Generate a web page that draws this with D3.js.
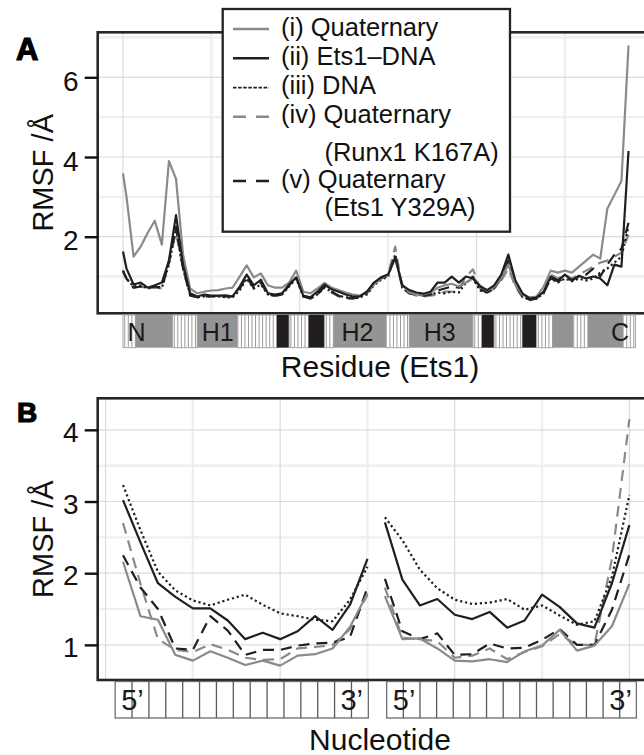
<!DOCTYPE html>
<html>
<head>
<meta charset="utf-8">
<script src="https://cdn.jsdelivr.net/npm/d3@7"></script>
<style>
  html, body { margin: 0; padding: 0; background: #fff; overflow: hidden; }
  svg { display: block; font-family: "Liberation Sans", Arial, sans-serif; }
</style>
</head>
<body>
<div id="chart"></div>
<script>
// ---- panel A: RMSF per Ets1 residue ----
const residue = [
  300, 301, 303, 305, 307, 309, 311, 313, 315, 317,
  319, 321, 323, 325, 327, 329, 331, 333, 335, 337,
  339, 341, 343, 345, 347, 349, 351, 353, 355, 357,
  359, 361, 363, 365, 367, 369, 371, 373, 375, 377,
  379, 381, 383, 385, 387, 389, 391, 393, 395, 397,
  399, 401, 403, 405, 407, 409, 411, 413, 415, 417,
  419, 421, 423, 425, 427, 429, 431, 433, 435, 437,
  439, 441, 443
];
const rmsfQuaternary = [
  3.59, 3.00, 1.50, 1.75, 2.10, 2.40, 1.80, 3.90, 3.45, 1.55,
  0.70, 0.58, 0.62, 0.65, 0.66, 0.70, 0.72, 1.00, 1.28, 0.98,
  1.08, 0.78, 0.72, 0.72, 0.85, 1.15, 0.62, 0.58, 0.70, 0.84,
  0.72, 0.66, 0.60, 0.55, 0.52, 0.62, 0.80, 0.95, 1.05, 1.45,
  0.80, 0.60, 0.55, 0.55, 0.60, 0.72, 0.78, 0.82, 0.75, 0.85,
  0.95, 0.78, 0.65, 0.75, 0.95, 1.30, 0.80, 0.55, 0.48, 0.50,
  0.75, 1.15, 1.10, 1.15, 1.10, 1.25, 1.40, 1.55, 1.45, 2.70,
  3.05, 3.40, 6.80
];
const rmsfEts1DNA = [
  1.63, 1.20, 0.80, 0.85, 0.72, 0.78, 0.85, 1.40, 2.54, 1.30,
  0.58, 0.50, 0.55, 0.52, 0.52, 0.53, 0.50, 0.75, 1.05, 0.78,
  0.92, 0.58, 0.55, 0.58, 0.80, 0.98, 0.52, 0.48, 0.62, 0.80,
  0.68, 0.62, 0.55, 0.50, 0.50, 0.62, 0.85, 0.98, 1.05, 1.48,
  0.78, 0.66, 0.60, 0.57, 0.62, 0.85, 0.85, 1.00, 0.85, 1.00,
  0.95, 0.75, 0.66, 0.78, 1.05, 1.55, 0.90, 0.58, 0.45, 0.47,
  0.62, 1.00, 0.90, 1.05, 0.90, 1.02, 0.95, 1.00, 0.95, 0.78,
  1.30, 1.25, 4.15
];
const rmsfDNA = [
  1.15, 0.95, 0.75, 0.78, 0.70, 0.75, 0.72, 1.30, 2.20, 1.20,
  0.55, 0.48, 0.50, 0.50, 0.50, 0.48, 0.48, 0.65, 0.95, 0.70,
  0.80, 0.55, 0.52, 0.55, 0.75, 0.95, 0.50, 0.45, 0.55, 0.72,
  0.62, 0.52, 0.48, 0.46, 0.48, 0.55, 0.78, 0.92, 1.00, 1.55,
  0.72, 0.60, 0.55, 0.52, 0.55, 0.60, 0.58, 0.62, 0.60, 0.85,
  0.95, 0.65, 0.60, 0.72, 0.95, 1.35, 0.80, 0.50, 0.42, 0.45,
  0.58, 0.95, 0.85, 0.95, 0.88, 0.95, 0.90, 0.95, 1.10, 1.20,
  1.35, 1.50, 2.25
];
const rmsfRunx1K167A = [
  1.10, 0.95, 0.72, 0.75, 0.70, 0.72, 0.70, 1.40, 2.10, 1.20,
  0.55, 0.50, 0.52, 0.50, 0.50, 0.50, 0.52, 0.70, 0.95, 0.72,
  0.85, 0.55, 0.52, 0.55, 0.78, 1.00, 0.52, 0.45, 0.55, 0.75,
  0.60, 0.50, 0.45, 0.45, 0.50, 0.58, 0.80, 0.95, 1.05, 1.75,
  0.72, 0.58, 0.52, 0.50, 0.52, 0.55, 0.62, 0.62, 0.70, 1.00,
  1.18, 0.70, 0.58, 0.70, 0.90, 1.20, 0.75, 0.48, 0.40, 0.45,
  0.60, 1.05, 0.95, 1.05, 0.95, 1.05, 1.15, 1.25, 1.35, 1.40,
  1.50, 1.60, 2.05
];
const rmsfEts1Y329A = [
  1.15, 0.95, 0.72, 0.75, 0.72, 0.75, 0.72, 1.35, 2.25, 1.20,
  0.52, 0.48, 0.50, 0.50, 0.52, 0.50, 0.50, 0.70, 1.00, 0.72,
  0.85, 0.55, 0.52, 0.55, 0.78, 1.00, 0.50, 0.45, 0.55, 0.75,
  0.62, 0.52, 0.46, 0.45, 0.48, 0.60, 0.82, 0.95, 1.02, 1.55,
  0.72, 0.58, 0.55, 0.52, 0.55, 0.65, 0.70, 0.75, 0.72, 0.88,
  1.00, 0.68, 0.60, 0.72, 0.95, 1.40, 0.80, 0.50, 0.42, 0.45,
  0.60, 0.95, 0.88, 0.95, 0.92, 1.00, 1.05, 1.20, 1.00, 1.30,
  1.55, 1.70, 2.35
];

// secondary structure strip (C = coil, H = helix, E = strand)
const ssBounds = [300, 303.5, 314, 321, 332.5, 343.5, 347, 352.5, 357, 359.5, 374.5,
                  381, 399, 401.5, 405, 413, 417, 421.5, 427.5, 431.5, 441.5, 445];
const ssType = ['C', 'H', 'C', 'H', 'C', 'E', 'C', 'E', 'C', 'H', 'C',
                'H', 'C', 'E', 'C', 'E', 'C', 'H', 'C', 'H', 'C'];
const ssLabels = ['N', 'H1', 'H2', 'H3', 'C'];
const ssLabelAt = [303.8, 326.8, 366.3, 389.6, 440.6];

// ---- panel B: RMSF per nucleotide (two strands of 15) ----
const nucleotide = [1, 2, 3, 4, 5, 6, 7, 8, 9, 10, 11, 12, 13, 14, 15,
                    16, 17, 18, 19, 20, 21, 22, 23, 24, 25, 26, 27, 28, 29, 30];
const ntQuaternary = [2.16, 1.40, 1.35, 0.86, 0.78, 0.91, 0.82, 0.72, 0.78, 0.71, 0.85, 0.87, 0.95, 1.25, 1.72,
                      1.68, 1.08, 1.09, 0.95, 0.78, 0.77, 0.80, 0.76, 0.91, 0.99, 1.21, 0.92, 0.99, 1.26, 1.85];
const ntEts1DNA = [3.02, 2.43, 1.86, 1.67, 1.51, 1.51, 1.34, 1.08, 1.17, 1.08, 1.19, 1.40, 1.21, 1.56, 2.20,
                   2.71, 1.91, 1.55, 1.64, 1.42, 1.36, 1.46, 1.24, 1.34, 1.70, 1.53, 1.30, 1.24, 1.86, 2.67];
const ntDNA = [3.23, 2.60, 2.02, 1.76, 1.62, 1.55, 1.63, 1.70, 1.56, 1.44, 1.40, 1.35, 1.33, 1.63, 2.09,
               2.78, 2.46, 2.05, 1.79, 1.63, 1.57, 1.59, 1.64, 1.49, 1.55, 1.41, 1.28, 1.33, 1.95, 3.09];
const ntRunx1K167A = [2.70, 1.85, 1.08, 0.93, 0.90, 1.01, 0.93, 0.82, 0.79, 0.80, 0.95, 0.97, 1.00, 1.22, 1.70,
                      1.80, 1.10, 1.08, 1.05, 0.82, 0.85, 0.95, 0.80, 0.90, 0.98, 1.15, 1.00, 1.00, 2.20, 4.15];
const ntEts1Y329A = [2.25, 1.80, 1.50, 0.95, 0.93, 1.40, 1.20, 0.86, 0.93, 0.93, 0.99, 1.02, 1.03, 1.11, 1.80,
                     1.92, 1.19, 1.08, 1.16, 0.86, 0.87, 1.02, 0.95, 0.96, 1.07, 1.22, 1.00, 1.00, 1.49, 2.26];
const strandStart = [0.55, 16.1];
const strandEnd = [15.05, 30.4];
const strandCells = 15;
const endLabels = ["5\u2019", "3\u2019", "5\u2019", "3\u2019"];
const endLabelAt = [1.54, 14.1, 17.1, 29.5];

const legendLabels = [
  ["(i) Quaternary"],
  ["(ii) Ets1\u2013DNA"],
  ["(iii) DNA"],
  ["(iv) Quaternary", "(Runx1 K167A)"],
  ["(v) Quaternary", "(Ets1 Y329A)"]
];
const yTicksA = [2, 4, 6];
const yTicksB = [1, 2, 3, 4];

// ---- styles ----
const GRAY = '#8a8a8a', DARK = '#1f1f1f';
const styles = [
  { color: GRAY, dash: null },
  { color: DARK, dash: null },
  { color: DARK, dash: '2.2,2.8' },
  { color: GRAY, dash: '11,7' },
  { color: DARK, dash: '11,7' }
];
const drawOrder = [3, 4, 2, 0, 1];
const FONT = '"Liberation Sans", Arial, sans-serif';

const svg = d3.select('#chart').append('svg')
  .attr('width', 680).attr('height', 755);

const A = { left: 97.7, right: 653.8, top: 32.3, bottom: 313.3 };
const B = { left: 97.7, right: 654.7, top: 398.3, bottom: 680 };

const xA = d3.scaleLinear().domain([292.85, 450.15]).range([A.left, A.right]);
const yA = d3.scaleLinear().domain([0.078, 7.13]).range([A.bottom, A.top]);
const xB = d3.scaleLinear().domain([-0.45, 31.45]).range([B.left, B.right]);
const yB = d3.scaleLinear().domain([0.51, 4.44]).range([B.bottom, B.top]);

function drawGrid(box, x, y, majX, minX, majY, minY) {
  const g = svg.append('g');
  g.selectAll('.minx').data(minX).join('line')
    .attr('x1', d => x(d)).attr('x2', d => x(d)).attr('y1', box.top).attr('y2', box.bottom)
    .attr('stroke', '#efefef').attr('stroke-width', 2.4);
  g.selectAll('.miny').data(minY).join('line')
    .attr('y1', d => y(d)).attr('y2', d => y(d)).attr('x1', box.left).attr('x2', box.right)
    .attr('stroke', '#efefef').attr('stroke-width', 2.4);
  g.selectAll('.majx').data(majX).join('line')
    .attr('x1', d => x(d)).attr('x2', d => x(d)).attr('y1', box.top).attr('y2', box.bottom)
    .attr('stroke', '#dcdcdc').attr('stroke-width', 1.2);
  g.selectAll('.majy').data(majY).join('line')
    .attr('y1', d => y(d)).attr('y2', d => y(d)).attr('x1', box.left).attr('x2', box.right)
    .attr('stroke', '#dcdcdc').attr('stroke-width', 1.2);
}

function drawLine(xs, ys, x, y, st) {
  const line = d3.line().x(d => x(d[0])).y(d => y(d[1]));
  svg.append('path')
    .attr('d', line(d3.zip(xs, ys)))
    .attr('fill', 'none')
    .attr('stroke', st.color)
    .attr('stroke-width', 2.2)
    .attr('stroke-linejoin', 'round')
    .attr('stroke-dasharray', st.dash);
}

function drawFrame(box) {
  svg.append('rect')
    .attr('x', box.left).attr('y', box.top)
    .attr('width', box.right - box.left).attr('height', box.bottom - box.top)
    .attr('fill', 'none').attr('stroke', '#262626').attr('stroke-width', 2.6);
}

function drawYAxis(box, y, ticks, dy) {
  const ax = svg.append('g')
    .attr('transform', `translate(${box.left},0)`)
    .call(d3.axisLeft(y).tickValues(ticks).tickSize(13).tickPadding(6).tickFormat(d3.format('d')))
    .attr('font-family', FONT).attr('font-size', 28);
  ax.select('.domain').remove();
  ax.selectAll('.tick line').attr('stroke', '#111').attr('stroke-width', 2.4);
  ax.selectAll('.tick text').attr('fill', '#111').attr('dy', dy);
  svg.append('text')
    .attr('transform', `translate(53,${(box.top + box.bottom) / 2}) rotate(-90)`)
    .attr('text-anchor', 'middle').attr('font-size', 29).attr('fill', '#111')
    .text('RMSF /\u00c5');
}

// ---- panel A ----
svg.append('rect').attr('x', A.left).attr('y', A.top)
  .attr('width', A.right - A.left).attr('height', A.bottom - A.top).attr('fill', '#fff');
drawGrid(A, xA, yA, [300, 350, 400, 450], [325, 375, 425], [2, 4, 6], [1, 3, 5, 7]);
const seriesA = [rmsfQuaternary, rmsfEts1DNA, rmsfDNA, rmsfRunx1K167A, rmsfEts1Y329A];
drawOrder.forEach(i => drawLine(residue, seriesA[i], xA, yA, styles[i]));
drawFrame(A);
drawYAxis(A, yA, yTicksA, '0.47em');

// secondary structure strip
const stripA = svg.append('g');
const sTop = 315, sBot = 347.7;
ssType.forEach((t, i) => {
  const s = ssBounds[i], e = ssBounds[i + 1];
  stripA.append('rect')
    .attr('x', xA(s)).attr('y', sTop).attr('width', xA(e) - xA(s)).attr('height', sBot - sTop)
    .attr('fill', t === 'H' ? '#949494' : t === 'E' ? '#221e1f' : '#fff')
    .attr('stroke', t === 'C' ? '#a8a8a8' : 'none').attr('stroke-width', 1);
  if (t === 'C') {
    const ticks = d3.range(Math.floor(s) + 0.5, e, 1).filter(v => v > s && v < e);
    stripA.selectAll(null).data(ticks).join('line')
      .attr('x1', d => xA(d)).attr('x2', d => xA(d)).attr('y1', sTop).attr('y2', sBot)
      .attr('stroke', '#9a9a9a').attr('stroke-width', 1);
  }
});
stripA.selectAll('.sslab').data(ssLabels).join('text')
  .attr('x', (d, i) => xA(ssLabelAt[i])).attr('y', 340.5)
  .attr('text-anchor', 'middle').attr('font-size', 25).attr('fill', '#1a1a1a')
  .text(d => d);

svg.append('text').attr('x', 380).attr('y', 377)
  .attr('text-anchor', 'middle').attr('font-size', 30).attr('fill', '#111')
  .text('Residue (Ets1)');

// legend
const lg = svg.append('g');
lg.append('rect').attr('x', 222.7).attr('y', 9).attr('width', 287.3).attr('height', 222.7)
  .attr('fill', '#fff').attr('stroke', '#222').attr('stroke-width', 2.3);
const keyY = [29, 58.3, 87.7, 116.7, 181];
const contY = [null, null, null, 161, 215.5];
legendLabels.forEach((lab, i) => {
  const st = styles[i];
  lg.append('line').attr('x1', 233).attr('x2', 269).attr('y1', keyY[i]).attr('y2', keyY[i])
    .attr('stroke', st.color).attr('stroke-width', i === 2 ? 1.7 : 2.4)
    .attr('stroke-dasharray', i === 2 ? '3.5,1.6' : (st.dash ? '13,10' : null));
  lg.append('text').attr('x', 281).attr('y', keyY[i] + 6.5)
    .attr('font-size', 25.5).attr('fill', '#111').text(lab[0]);
  if (lab[1]) {
    lg.append('text').attr('x', 324.4).attr('y', contY[i])
      .attr('font-size', 25.5).attr('fill', '#111').text(lab[1]);
  }
});

svg.append('text').attr('x', 16).attr('y', 60)
  .attr('font-size', 31).attr('font-weight', 'bold').attr('stroke', '#000').attr('stroke-width', 1.2)
  .text('A');

// ---- panel B ----
svg.append('rect').attr('x', B.left).attr('y', B.top)
  .attr('width', B.right - B.left).attr('height', B.bottom - B.top).attr('fill', '#fff');
drawGrid(B, xB, yB, [0, 10, 20, 30], [5, 15, 25], [1, 2, 3, 4], [1.5, 2.5, 3.5]);
const seriesB = [ntQuaternary, ntEts1DNA, ntDNA, ntRunx1K167A, ntEts1Y329A];
drawOrder.forEach(i => {
  drawLine(nucleotide.slice(0, 15), seriesB[i].slice(0, 15), xB, yB, styles[i]);
  drawLine(nucleotide.slice(15), seriesB[i].slice(15), xB, yB, styles[i]);
});
drawFrame(B);
drawYAxis(B, yB, yTicksB, '0.41em');

// DNA strand strips
const stripB = svg.append('g');
const bTop = 681.5, bBot = 718;
strandStart.forEach((s, k) => {
  const e = strandEnd[k];
  const w = (e - s) / strandCells;
  stripB.append('rect')
    .attr('x', xB(s)).attr('y', bTop).attr('width', xB(e) - xB(s)).attr('height', bBot - bTop)
    .attr('fill', '#fff').attr('stroke', '#6e6e6e').attr('stroke-width', 1.3);
  stripB.selectAll(null).data(d3.range(1, strandCells)).join('line')
    .attr('x1', j => xB(s + j * w)).attr('x2', j => xB(s + j * w))
    .attr('y1', bTop).attr('y2', bBot)
    .attr('stroke', '#5a5a5a').attr('stroke-width', 1.3);
});
stripB.selectAll('.endlab').data(endLabels).join('text')
  .attr('x', (d, i) => xB(endLabelAt[i])).attr('y', 710)
  .attr('text-anchor', 'middle').attr('font-size', 29).attr('fill', '#1a1a1a')
  .text(d => d);

svg.append('text').attr('x', 380).attr('y', 750)
  .attr('text-anchor', 'middle').attr('font-size', 30).attr('fill', '#111')
  .text('Nucleotide');

svg.append('text').attr('x', 17).attr('y', 422)
  .attr('font-size', 28).attr('font-weight', 'bold').attr('stroke', '#000').attr('stroke-width', 1.2)
  .text('B');
</script>
</body>
</html>
